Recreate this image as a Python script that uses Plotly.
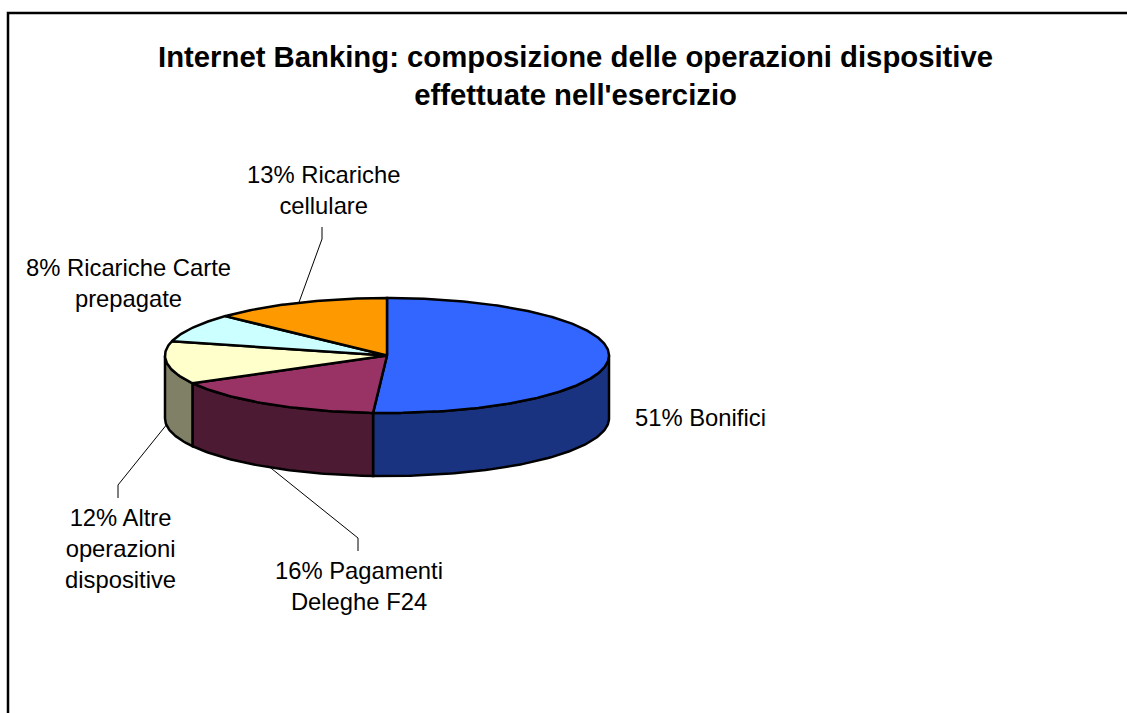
import numpy as np
import plotly.graph_objects as go

# Operation mix, in percent, clockwise from twelve o'clock
categories = ["Bonifici", "Pagamenti<br>Deleghe F24", "Altre<br>operazioni<br>dispositive",
              "Ricariche Carte<br>prepagate", "Ricariche<br>cellulare"]
shares = [51, 16, 12, 8, 13]
top_colors = ["#3366FF", "#993366", "#FFFFCC", "#CCFFFF", "#FF9900"]
wall_colors = ["#1A3380", "#4D1A33", "#808066", "#668080", "#804D00"]
title_text = "Internet Banking: composizione delle operazioni dispositive<br>effettuate nell'esercizio"

# Tilted-disc geometry on a pixel-sized plotting area
WIDTH, HEIGHT = 1127, 713
CX, CY, RX, RY, DEPTH = 387, 355.5, 222, 57.5, 63
LABEL_POS = [(700, 417), (359, 586), (120, 548), (128, 283), (323, 190)]
# Elbow points of the leader lines, keyed by slice index
LEADER_ELBOWS = {1: [(358, 538), (358, 551)], 2: [(118, 485), (118, 498)], 4: [(322, 239), (322, 227)]}


def rim(a_from, a_to, drop=0.0):
    """Points on the disc edge between two clockwise angles (radians from the top)."""
    a = np.linspace(a_from, a_to, max(2, int(abs(a_to - a_from) * 60)))
    return CX + RX * np.sin(a), CY - RY * np.cos(a) + drop


edges = np.cumsum([0] + shares) / sum(shares) * 2 * np.pi
mids = (edges[:-1] + edges[1:]) / 2

fig = go.Figure()


def add_poly(xs, ys, fill):
    fig.add_trace(go.Scatter(x=xs, y=ys, mode="lines", fill="toself", fillcolor=fill,
                             line=dict(color="#000000", width=2.5), hoverinfo="skip",
                             showlegend=False))


# Side walls only exist on the near half of the disc
for start, end, color in zip(edges[:-1], edges[1:], wall_colors):
    lo, hi = max(start, np.pi / 2), min(end, 3 * np.pi / 2)
    if lo >= hi:
        continue
    x_up, y_up = rim(lo, hi)
    x_dn, y_dn = rim(hi, lo, DEPTH)
    add_poly(np.r_[x_up, x_dn, x_up[0]], np.r_[y_up, y_dn, y_up[0]], color)

# Top face wedges
for start, end, color in zip(edges[:-1], edges[1:], top_colors):
    x_arc, y_arc = rim(start, end)
    add_poly(np.r_[CX, x_arc, CX], np.r_[CY, y_arc, CY], color)

# Leader lines start at each slice's mid-angle, on the wall when it faces the viewer
for idx, elbows in LEADER_ELBOWS.items():
    drop = DEPTH * 0.98 if np.cos(mids[idx]) < 0 else 0
    x0, y0 = rim(mids[idx], mids[idx], drop)
    fig.add_trace(go.Scatter(x=[x0[0]] + [p[0] for p in elbows], y=[y0[0]] + [p[1] for p in elbows],
                             mode="lines", line=dict(color="#000000", width=1),
                             hoverinfo="skip", showlegend=False))

annotations = [dict(x=575.5, y=75, text=f"<b>{title_text}</b>", showarrow=False, xref="x", yref="y",
                    xanchor="center", yanchor="middle", align="center",
                    font=dict(family="Liberation Sans", size=29.3, color="#000000"))]
for cat, share, (lx, ly) in zip(categories, shares, LABEL_POS):
    annotations.append(dict(x=lx, y=ly, text=f"{share}% {cat}", showarrow=False, xref="x", yref="y",
                            xanchor="center", yanchor="middle", align="center",
                            font=dict(family="Liberation Sans", size=23.8, color="#000000")))

fig.update_layout(
    width=WIDTH, height=HEIGHT, margin=dict(l=0, r=0, t=0, b=0),
    paper_bgcolor="#FFFFFF", plot_bgcolor="#FFFFFF", showlegend=False,
    xaxis=dict(range=[0, WIDTH], visible=False, fixedrange=True),
    yaxis=dict(range=[HEIGHT, 0], visible=False, fixedrange=True),
    annotations=annotations,
    # Chart-area border runs off the right and bottom of the page
    shapes=[dict(type="rect", xref="x", yref="y", x0=8, y0=13, x1=WIDTH + 20, y1=HEIGHT + 20,
                 line=dict(color="#000000", width=2.5), layer="below")],
)

fig.write_html("out.html", config=dict(displayModeBar=False))
